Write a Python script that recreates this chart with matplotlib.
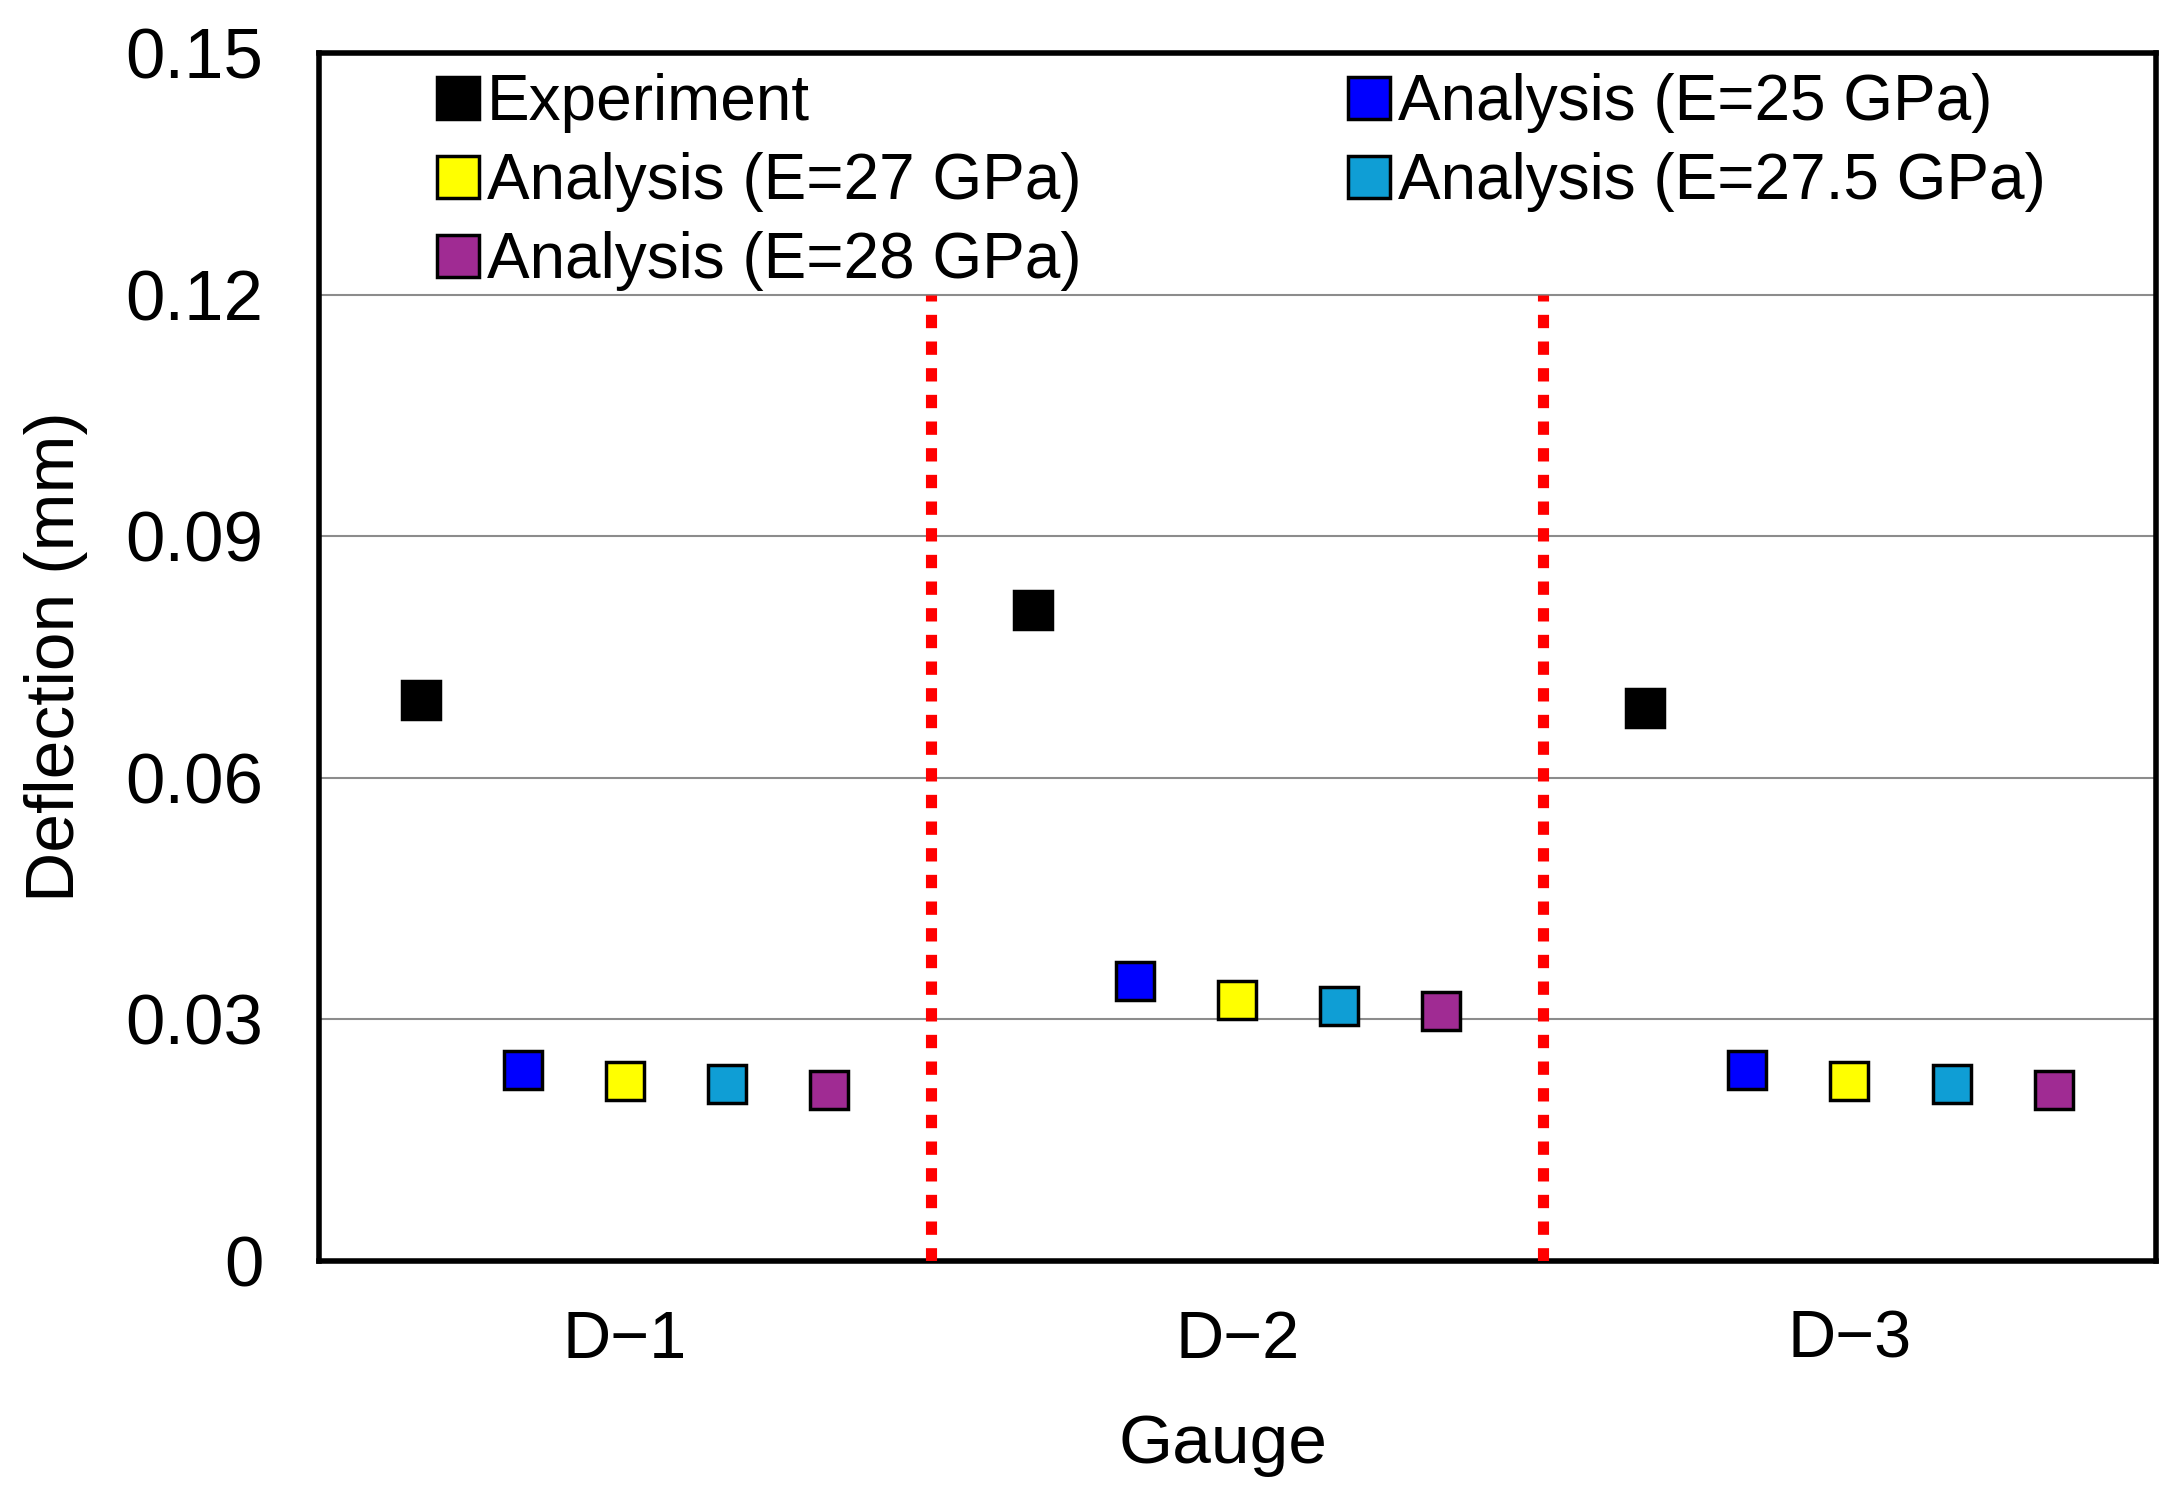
import numpy as np
import matplotlib
matplotlib.use('Agg')
import matplotlib.pyplot as plt
from matplotlib import font_manager

gauges = ['D\u22121', 'D\u22122', 'D\u22123']
series = ['Experiment', 'Analysis (E=25 GPa)', 'Analysis (E=27 GPa)',
          'Analysis (E=27.5 GPa)', 'Analysis (E=28 GPa)']
experiment = [0.0697, 0.0808, 0.0687]
e25 = [0.0237, 0.0348, 0.0237]
e27 = [0.0223, 0.0324, 0.0223]
e275 = [0.0220, 0.0317, 0.0220]
e28 = [0.0213, 0.0310, 0.0213]
colors = ['#000000', '#0000ff', '#ffff00', '#0f9ed5', '#a02b93']
yticks = [0, 0.03, 0.06, 0.09, 0.12, 0.15]
ytick_labels = ['0', '0.03', '0.06', '0.09', '0.12', '0.15']

names = [f.name for f in font_manager.fontManager.ttflist]
narrow = 'Liberation Sans Narrow' if 'Liberation Sans Narrow' in names else 'Liberation Sans'
plt.rcParams['font.family'] = ['Liberation Sans', 'DejaVu Sans']

fig = plt.figure(figsize=(21.84, 14.95), dpi=100)
ax = fig.add_axes([0.146, 0.1565, 0.841, 0.808])

values = [experiment, e25, e27, e275, e28]
offsets = [-1/3, -1/6, 0, 1/6, 1/3]
x = np.arange(len(gauges))
handles = []
for i in range(len(series)):
	h, = ax.plot(x + offsets[i], values[i], linestyle='none', marker='s', markersize=27,
			markerfacecolor=colors[i], markeredgecolor='black', markeredgewidth=2.5,
			label=series[i], zorder=5)
	handles.append(h)

# separators between gauges
for sep in [0.5, 1.5]:
	ax.plot([sep, sep], [0, 0.12], color='#ff0000', linewidth=8,
		linestyle=(0, (1.2, 1.2)), dash_capstyle='butt', zorder=3)

ax.set_xlim(-0.5, 2.5)
ax.set_ylim(0, 0.15)
ax.set_yticks(yticks)
ax.set_yticklabels(ytick_labels)
ax.set_xticks(x)
ax.set_xticklabels(gauges)
ax.tick_params(axis='y', length=0, pad=40, labelsize=51)
ax.tick_params(axis='x', length=0, pad=35, labelsize=48)
for gy in yticks[1:-1]:
	ax.axhline(gy, color='#8c8c8c', linewidth=1.5, zorder=1)
for s in ax.spines.values():
	s.set_linewidth(4)

ax.set_xlabel('Gauge', fontsize=50, va='center')
ax.xaxis.set_label_coords(0.492, -0.152)
ax.set_ylabel('Deflection (mm)', fontsize=50, family=narrow, va='center')
ax.yaxis.set_label_coords(-0.143, 0.5)

order = [0, 2, 4, 1, 3]
leg = ax.legend([handles[k] for k in order], [series[k] for k in order], ncol=2,
		loc='upper left', bbox_to_anchor=(0.034, 1.031), frameon=False,
		prop={'family': narrow, 'size': 46}, handlelength=0.6, handletextpad=0.15,
		columnspacing=4.2, labelspacing=0.3, borderaxespad=0.5, markerscale=1.1)

fig.savefig('out.png', dpi=100)
